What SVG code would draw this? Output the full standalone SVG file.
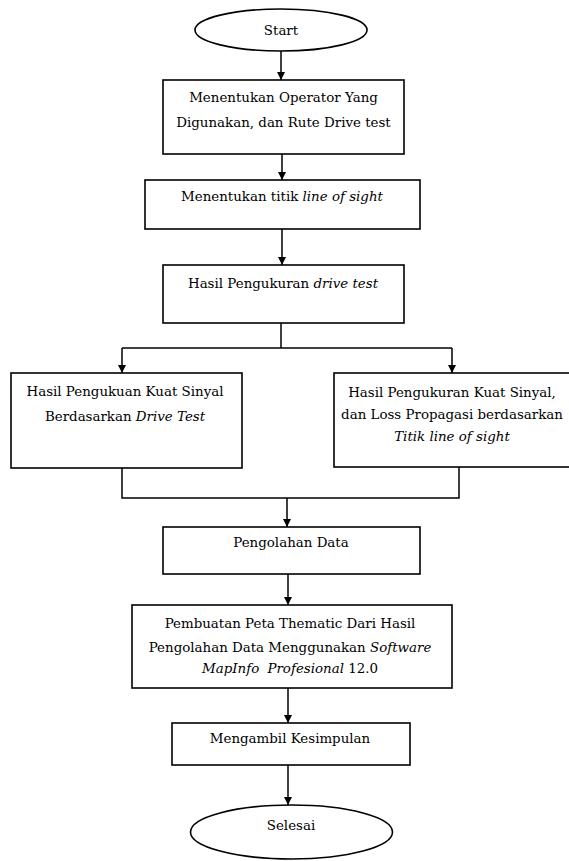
<svg xmlns="http://www.w3.org/2000/svg" width="569" height="861" viewBox="0 0 569 861">
<style>
.box{fill:#fff;stroke:#000;stroke-width:1.6}
.ln{fill:none;stroke:#000;stroke-width:1.5}
text{font-family:'DejaVu Serif',serif;font-size:13.4px;fill:#000;text-anchor:middle}
.i{font-style:italic}
</style>
<defs>
<marker id="ah" viewBox="0 0 10 10" refX="10" refY="5" markerWidth="8" markerHeight="10" markerUnits="userSpaceOnUse" orient="auto">
<path d="M0,0 L10,5 L0,10 z" fill="#000"/>
</marker>
</defs>
<g id="connectors">
<line class="ln" x1="281" y1="51" x2="281" y2="80" marker-end="url(#ah)"/>
<line class="ln" x1="282" y1="154" x2="282" y2="180" marker-end="url(#ah)"/>
<line class="ln" x1="282" y1="229" x2="282" y2="265" marker-end="url(#ah)"/>
<polyline class="ln" points="281,323 281,348"/>
<polyline class="ln" points="122,348 452,348"/>
<line class="ln" x1="122" y1="348" x2="122" y2="373" marker-end="url(#ah)"/>
<line class="ln" x1="452" y1="348" x2="452" y2="373" marker-end="url(#ah)"/>
<polyline class="ln" points="122,468 122,498 459,498 459,467"/>
<line class="ln" x1="287" y1="498" x2="287" y2="527" marker-end="url(#ah)"/>
<line class="ln" x1="288" y1="574" x2="288" y2="605" marker-end="url(#ah)"/>
<line class="ln" x1="288" y1="688" x2="288" y2="723" marker-end="url(#ah)"/>
<line class="ln" x1="288" y1="765" x2="288" y2="805" marker-end="url(#ah)"/>
</g>
<g id="start">
<ellipse class="box" cx="281" cy="30" rx="86" ry="21"/>
<text x="281" y="35">Start</text>
</g>
<g id="n1">
<rect class="box" x="163" y="80" width="241" height="74"/>
<text x="283.5" y="102">Menentukan Operator Yang</text>
<text x="283.5" y="127">Digunakan, dan Rute Drive test</text>
</g>
<g id="n2">
<rect class="box" x="145" y="180" width="275" height="49"/>
<text x="282" y="201">Menentukan titik <tspan class="i">line of sight</tspan></text>
</g>
<g id="n3">
<rect class="box" x="163" y="265" width="241" height="58"/>
<text x="283" y="288">Hasil Pengukuran <tspan class="i">drive test</tspan></text>
</g>
<g id="n4">
<rect class="box" x="11" y="373" width="231" height="95"/>
<text x="125" y="396">Hasil Pengukuan Kuat Sinyal</text>
<text x="125" y="421">Berdasarkan <tspan class="i">Drive Test</tspan></text>
</g>
<g id="n5">
<rect class="box" x="334" y="373" width="240" height="94"/>
<text x="452" y="397">Hasil Pengukuran Kuat Sinyal,</text>
<text x="452" y="419">dan Loss Propagasi berdasarkan</text>
<text x="452" y="441" class="i">Titik line of sight</text>
</g>
<g id="n6">
<rect class="box" x="163" y="527" width="257" height="47"/>
<text x="291" y="547">Pengolahan Data</text>
</g>
<g id="n7">
<rect class="box" x="132" y="605" width="320" height="83"/>
<text x="290" y="628">Pembuatan Peta Thematic Dari Hasil</text>
<text x="290" y="652">Pengolahan Data Menggunakan <tspan class="i">Software</tspan></text>
<text x="290" y="673"><tspan class="i">MapInfo</tspan><tspan class="i" dx="4"> Profesional</tspan> 12.0</text>
</g>
<g id="n8">
<rect class="box" x="172" y="723" width="238" height="42"/>
<text x="290" y="743">Mengambil Kesimpulan</text>
</g>
<g id="end">
<ellipse class="box" cx="291.5" cy="832" rx="101" ry="27"/>
<text x="291" y="830">Selesai</text>
</g>
</svg>
